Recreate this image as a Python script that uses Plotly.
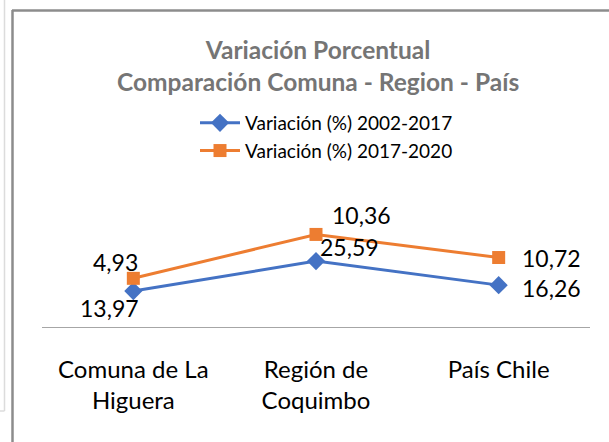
import plotly.graph_objects as go

# ---- data ----
categories = ["Comuna de La<br>Higuera", "Región de<br>Coquimbo", "País Chile"]
var_2002_2017 = [13.97, 25.59, 16.26]
var_2017_2020 = [4.93, 10.36, 10.72]
series_names = ["Variación (%) 2002-2017", "Variación (%) 2017-2020"]

# stacked line chart (as in the original spreadsheet chart)
stack_1 = var_2002_2017
stack_2 = [a + b for a, b in zip(var_2002_2017, var_2017_2020)]

# label offsets in pixels (style)
label_shift_1 = [(-24, -17), (33, 14), (53, -3)]
label_shift_2 = [(-18, 16), (45, 19), (53, 0)]

W, H = 609, 442
BLUE = "#4472C4"
ORANGE = "#ED7D31"
FONT = "Lato"


def fmt(v):
    return f"{v:.2f}".replace(".", ",")


fig = go.Figure()
fig.add_trace(go.Scatter(
    x=categories, y=stack_1, name=series_names[0], mode="lines+markers",
    line=dict(color=BLUE, width=3),
    marker=dict(symbol="diamond", size=14, color=BLUE),
    cliponaxis=False,
))
fig.add_trace(go.Scatter(
    x=categories, y=stack_2, name=series_names[1], mode="lines+markers",
    line=dict(color=ORANGE, width=3),
    marker=dict(symbol="square", size=13, color=ORANGE),
    cliponaxis=False,
))

annotations = []
for cat, y, v, (dx, dy) in zip(categories, stack_1, var_2002_2017, label_shift_1):
    annotations.append(dict(x=cat, y=y, xref="x", yref="y", text=fmt(v), showarrow=False,
                            xshift=dx, yshift=dy,
                            font=dict(family=FONT, size=23, color="#000000", weight="normal")))
for cat, y, v, (dx, dy) in zip(categories, stack_2, var_2017_2020, label_shift_2):
    annotations.append(dict(x=cat, y=y, xref="x", yref="y", text=fmt(v), showarrow=False,
                            xshift=dx, yshift=dy,
                            font=dict(family=FONT, size=23, color="#000000", weight="normal")))

# title
annotations.append(dict(
    x=318 / W, y=1 - 65 / H, xref="paper", yref="paper", xanchor="center", yanchor="middle",
    text="<b>Variación Porcentual<br>Comparación Comuna - Region - País</b>",
    showarrow=False, font=dict(family=FONT, size=24.5, color="#757575"),
))

shapes = [
    # outer chart frame (dark gray)
    dict(type="line", xref="paper", yref="paper", x0=12.5 / W, x1=12.5 / W, y0=0, y1=1 - 10 / H,
         line=dict(color="#8c8c8c", width=2.5)),
    dict(type="line", xref="paper", yref="paper", x0=12 / W, x1=1, y0=1 - 10.5 / H, y1=1 - 10.5 / H,
         line=dict(color="#8c8c8c", width=2.5)),
    # faint background window edge
    dict(type="line", xref="paper", yref="paper", x0=4.5 / W, x1=4.5 / W, y0=1 - 411 / H, y1=1,
         line=dict(color="#dcdcdc", width=1.5)),
    dict(type="line", xref="paper", yref="paper", x0=0, x1=4.5 / W, y0=1 - 411 / H, y1=1 - 411 / H,
         line=dict(color="#dcdcdc", width=1.5)),
]

fig.update_layout(
    width=W, height=H,
    margin=dict(l=0, r=0, t=0, b=0, autoexpand=False),
    paper_bgcolor="white", plot_bgcolor="white",
    showlegend=True,
    legend=dict(
        x=195 / W, y=1 - 104 / H, xanchor="left", yanchor="top",
        font=dict(family=FONT, size=19, color="#000000", weight="normal"),
        bgcolor="rgba(0,0,0,0)", tracegroupgap=0, itemwidth=40,
    ),
    xaxis=dict(
        domain=[42 / W, 590 / W], type="category", range=[-0.5, 2.5],
        showline=True, linecolor="#a6a6a6", linewidth=1.2,
        showgrid=False, zeroline=False, ticks="",
        tickfont=dict(family=FONT, size=24, color="#000000", weight="normal"),
        ticklabelstandoff=21,
        anchor="y",
    ),
    yaxis=dict(
        domain=[1 - 327 / H, 1 - 224 / H], range=[0, 40],
        showgrid=False, zeroline=False, showline=False, showticklabels=False, ticks="",
    ),
    annotations=annotations,
    shapes=shapes,
    font=dict(family=FONT),
)

fig.write_html(
    "out.html",
    config={"displayModeBar": False},
    post_script="document.body.style.margin='0';document.body.style.padding='0';",
)
